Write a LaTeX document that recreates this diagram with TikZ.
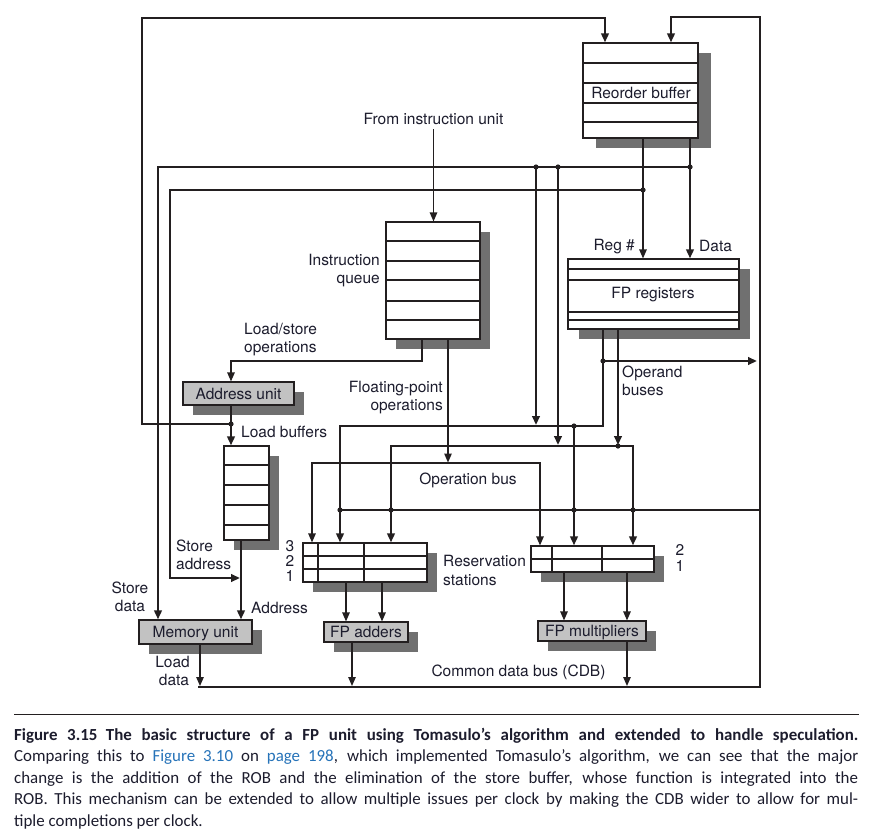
\documentclass[tikz,border=0pt]{standalone}
\usepackage{fontspec}
\setmainfont{TeX Gyre Heros}
\newfontfamily\capfont{Carlito}
\usetikzlibrary{arrows.meta,shadows}
\definecolor{ink}{RGB}{35,31,32}
\definecolor{shad}{RGB}{112,112,112}
\definecolor{txt}{RGB}{28,28,45}
\definecolor{linkblue}{RGB}{38,115,185}
\begin{document}
\begin{tikzpicture}[x=1pt,y=-1pt,
  thk/.style={draw=ink,line width=2.8pt},
  thn/.style={draw=ink,line width=1.2pt},
  arr/.style={-{Triangle[length=9pt,width=7.5pt]}},
  dblarr/.style={{Triangle[length=9pt,width=7.5pt]}-{Triangle[length=9pt,width=7.5pt]}},
  bx/.style={draw=ink,line width=1.2pt,fill=white,inner sep=0pt},
  shd/.style={general shadow={fill=shad,shadow xshift=#1,shadow yshift=-10pt}},
  shd/.default=10pt,
  unit/.style={bx,left color=black!24,middle color=black!12,right color=black!24,
    font=\fontsize{15.5}{18}\selectfont,text=txt,text height=11pt,text depth=0pt},
  lbl/.style={font=\fontsize{15.5}{18}\selectfont,text=txt,inner sep=0pt},
  captxt/.style={font=\capfont\fontsize{16.9}{20}\selectfont,text=txt,inner sep=0pt,anchor=base west}
]
\useasboundingbox (0,0) rectangle (876,839);
\fill[white] (0,0) rectangle (876,839);

% ---------- boxes ----------
\node[bx,shd=13pt,minimum width=115pt,minimum height=95pt] (rob) at (640.5,90.5) {};
\foreach \yy in {63,83,103,122} \draw[thn] (rob.west |- 0,\yy) -- (rob.east |- 0,\yy);
\node[lbl,anchor=base] (robt) at (641,98.5) {Reorder buffer};

\node[bx,shd,minimum width=94pt,minimum height=117pt] (iq) at (433,280.5) {};
\foreach \yy in {241,261,280,301,320} \draw[thn] (iq.west |- 0,\yy) -- (iq.east |- 0,\yy);

\node[bx,shd=11pt,minimum width=171pt,minimum height=70pt] (fpr) at (653.5,294) {};
\foreach \yy in {269,280,312,320} \draw[thn] (fpr.west |- 0,\yy) -- (fpr.east |- 0,\yy);
\node[lbl,anchor=base] (fprt) at (653,298.5) {FP registers};

\node[bx,shd,minimum width=45pt,minimum height=94pt] (lb) at (246.5,493) {};
\foreach \yy in {465,485,505,525} \draw[thn] (lb.west |- 0,\yy) -- (lb.east |- 0,\yy);

\node[unit,shd,minimum width=111pt,minimum height=23pt] (au) at (238.5,393.5) {Address unit};
\node[unit,shd,minimum width=113pt,minimum height=24pt] (mem) at (195.5,632) {Memory unit};

\node[bx,shd,minimum width=124pt,minimum height=39pt] (ars) at (365,562.5) {};
\foreach \yy in {556,569} \draw[thn] (ars.west |- 0,\yy) -- (ars.east |- 0,\yy);
\foreach \xx in {318,364} \draw[thn] (ars.north -| \xx,0) -- (ars.south -| \xx,0);

\node[bx,shd,minimum width=123pt,minimum height=26pt] (mrs) at (592.5,559) {};
\draw[thn] (mrs.west) -- (mrs.east);
\foreach \xx in {552,602} \draw[thn] (mrs.north -| \xx,0) -- (mrs.south -| \xx,0);

\node[unit,shd,minimum width=84pt,minimum height=20pt] (fpa) at (366,632) {FP adders};
\node[unit,shd,minimum width=108pt,minimum height=20pt] (fpm) at (592,631) {FP multipliers};

% ---------- labels ----------
\node[lbl,anchor=base] (fiu) at (433.5,124) {From instruction unit};
\node[lbl,anchor=base east] (iql1) at (380,265) {Instruction};
\node[lbl,anchor=base east] (iql2) at (380,283) {queue};
\node[lbl,anchor=base west] (ls1) at (244,334) {Load/store};
\node[lbl,anchor=base west] (ls2) at (244,352.5) {operations};
\node[lbl,anchor=base east] (fp1) at (443,392.5) {Floating-point};
\node[lbl,anchor=base east] (fp2) at (443,410.5) {operations};
\node[lbl,anchor=base west] (lbt) at (241,437.5) {Load buffers};
\node[lbl,anchor=base east] (regt) at (635,250.5) {Reg \#};
\node[lbl,anchor=base west] (datat) at (699,251) {Data};
\node[lbl,anchor=base west] (ob1) at (622,377.5) {Operand};
\node[lbl,anchor=base west] (ob2) at (622,395) {buses};
\node[lbl,anchor=base] (opbt) at (468,484.5) {Operation bus};
\node[lbl,anchor=base] (sd1) at (130,593.5) {Store};
\node[lbl,anchor=base] (sd2) at (130,611) {data};
\node[lbl,anchor=base west] (sa1) at (176,551) {Store};
\node[lbl,anchor=base west] (sa2) at (176,569.5) {address};
\node[lbl,anchor=base west] (addt) at (251,613.5) {Address};
\node[lbl,anchor=base] (ld1) at (172.5,667) {Load};
\node[lbl,anchor=base] (ld2) at (174,685) {data};
\node[lbl,anchor=base] (r3) at (290,551) {3};
\node[lbl,anchor=base] (r2) at (290,566.5) {2};
\node[lbl,anchor=base] (r1) at (290,581.5) {1};
\node[lbl,anchor=base west] (rs1) at (443,566.5) {Reservation};
\node[lbl,anchor=base west] (rs2) at (443,585.5) {stations};
\node[lbl,anchor=base] (m2) at (680,555) {2};
\node[lbl,anchor=base] (m1) at (680,571) {1};
\node[lbl,anchor=base] (cdbt) at (518.5,676.5) {Common data bus (CDB)};

% ---------- named junctions ----------
\coordinate (jau) at (231,424);
\coordinate (opl) at (312,463);
\coordinate (opr) at (540,463);
\coordinate (sa) at (240,578);

% ---------- connectors ----------
\draw[thk,arr] (au.south -| jau) -- (lb.north -| jau);
\draw[thk,arr] (jau) -- (142,424) -- (142,18) -- (605,18) -- (rob.north -| 605,0);
\draw[thk,arr] (lb.south -| 241,0) -- (mem.north -| 241,0);
\draw[thk,arr] (643,190) -- (170,190) -- (170,578) -- (sa);
\draw[thn,arr] (rob.south -| 643,0) -- (fpr.north -| 643,0);
\draw[thk,arr] (690,167) -- (158,167) -- (mem.north -| 158,0);
\draw[thk,arr] (rob.south -| 690,0) -- (fpr.north -| 690,0);
\draw[thk,arr] (536,167) -- (536,425);
\draw[thk,arr] (558,167) -- (558,445);
\draw[thn,arr] ([yshift=-5pt]fiu.south) -- (iq.north -| fiu.south);
\draw[thn,arr] (iq.south -| 422,0) -- (422,361) -- (231,361) -- (au.north -| 231,0);
\draw[thn,arr] (iq.south -| 448,0) -- (448,462.5);
\draw[thn,dblarr] (ars.north -| opl) -- (opl) -- (opr) -- (mrs.north -| opr);
\draw[thk,arr] (fpr.south -| 603,0) -- (603,426) -- (340,426) -- (ars.north -| 340,0);
\draw[thk,arr] (603,361) -- (757,361);
\draw[thk,arr] (fpr.south -| 618,0) -- (618,445);
\draw[thk,dblarr] (ars.north -| 391,0) -- (391,446) -- (633,446) -- (mrs.north -| 633,0);
\draw[thk,arr] (574,426) -- (mrs.north -| 574,0);
\draw[thk] (340,510) -- (760,510);
\draw[thk,arr] (198,687) -- (760,687) -- (760,17) -- (671,17) -- (rob.north -| 671,0);
\draw[thn,arr] (mem.south -| 200,0) -- (200,686);
\draw[thn,arr] (ars.south -| 346,0) -- (fpa.north -| 346,0);
\draw[thn,arr] (ars.south -| 382,0) -- (fpa.north -| 382,0);
\draw[thn,arr] (fpa.south -| 352,0) -- (352,686);
\draw[thn,arr] (mrs.south -| 564,0) -- (fpm.north -| 564,0);
\draw[thn,arr] (mrs.south -| 627,0) -- (fpm.north -| 627,0);
\draw[thn,arr] (fpm.south -| 627,0) -- (627,686);

\foreach \p in {(231,424),(536,167),(558,167),(690,167),(643,190),(603,361),
  (574,426),(618,446),(340,510),(391,510),(574,510),(633,510)}
  \fill[ink] \p circle (2.6pt);

% ---------- caption ----------
\draw[ink,line width=1pt] (14,714.5) -- (859,714.5);
\node[captxt] (c1) at (14,740) {\makebox[844pt][s]{\bfseries Figure 3.15\hspace{0.5em}The basic structure of a FP unit using Tomasulo’s algorithm and extended to handle speculation.}};
\node[captxt] (c2) at (14,761.5) {\makebox[844pt][s]{Comparing this to \textcolor{linkblue}{Figure 3.10} on \textcolor{linkblue}{page 198}, which implemented Tomasulo’s algorithm, we can see that the major}};
\node[captxt] (c3) at (14,783) {\makebox[844pt][s]{change is the addition of the ROB and the elimination of the store buffer, whose function is integrated into the}};
\node[captxt] (c4) at (14,804.5) {\makebox[844pt][s]{ROB. This mechanism can be extended to allow multiple issues per clock by making the CDB wider to allow for mul-}};
\node[captxt] (c5) at (14,826) {tiple completions per clock.};
\end{tikzpicture}
\end{document}
